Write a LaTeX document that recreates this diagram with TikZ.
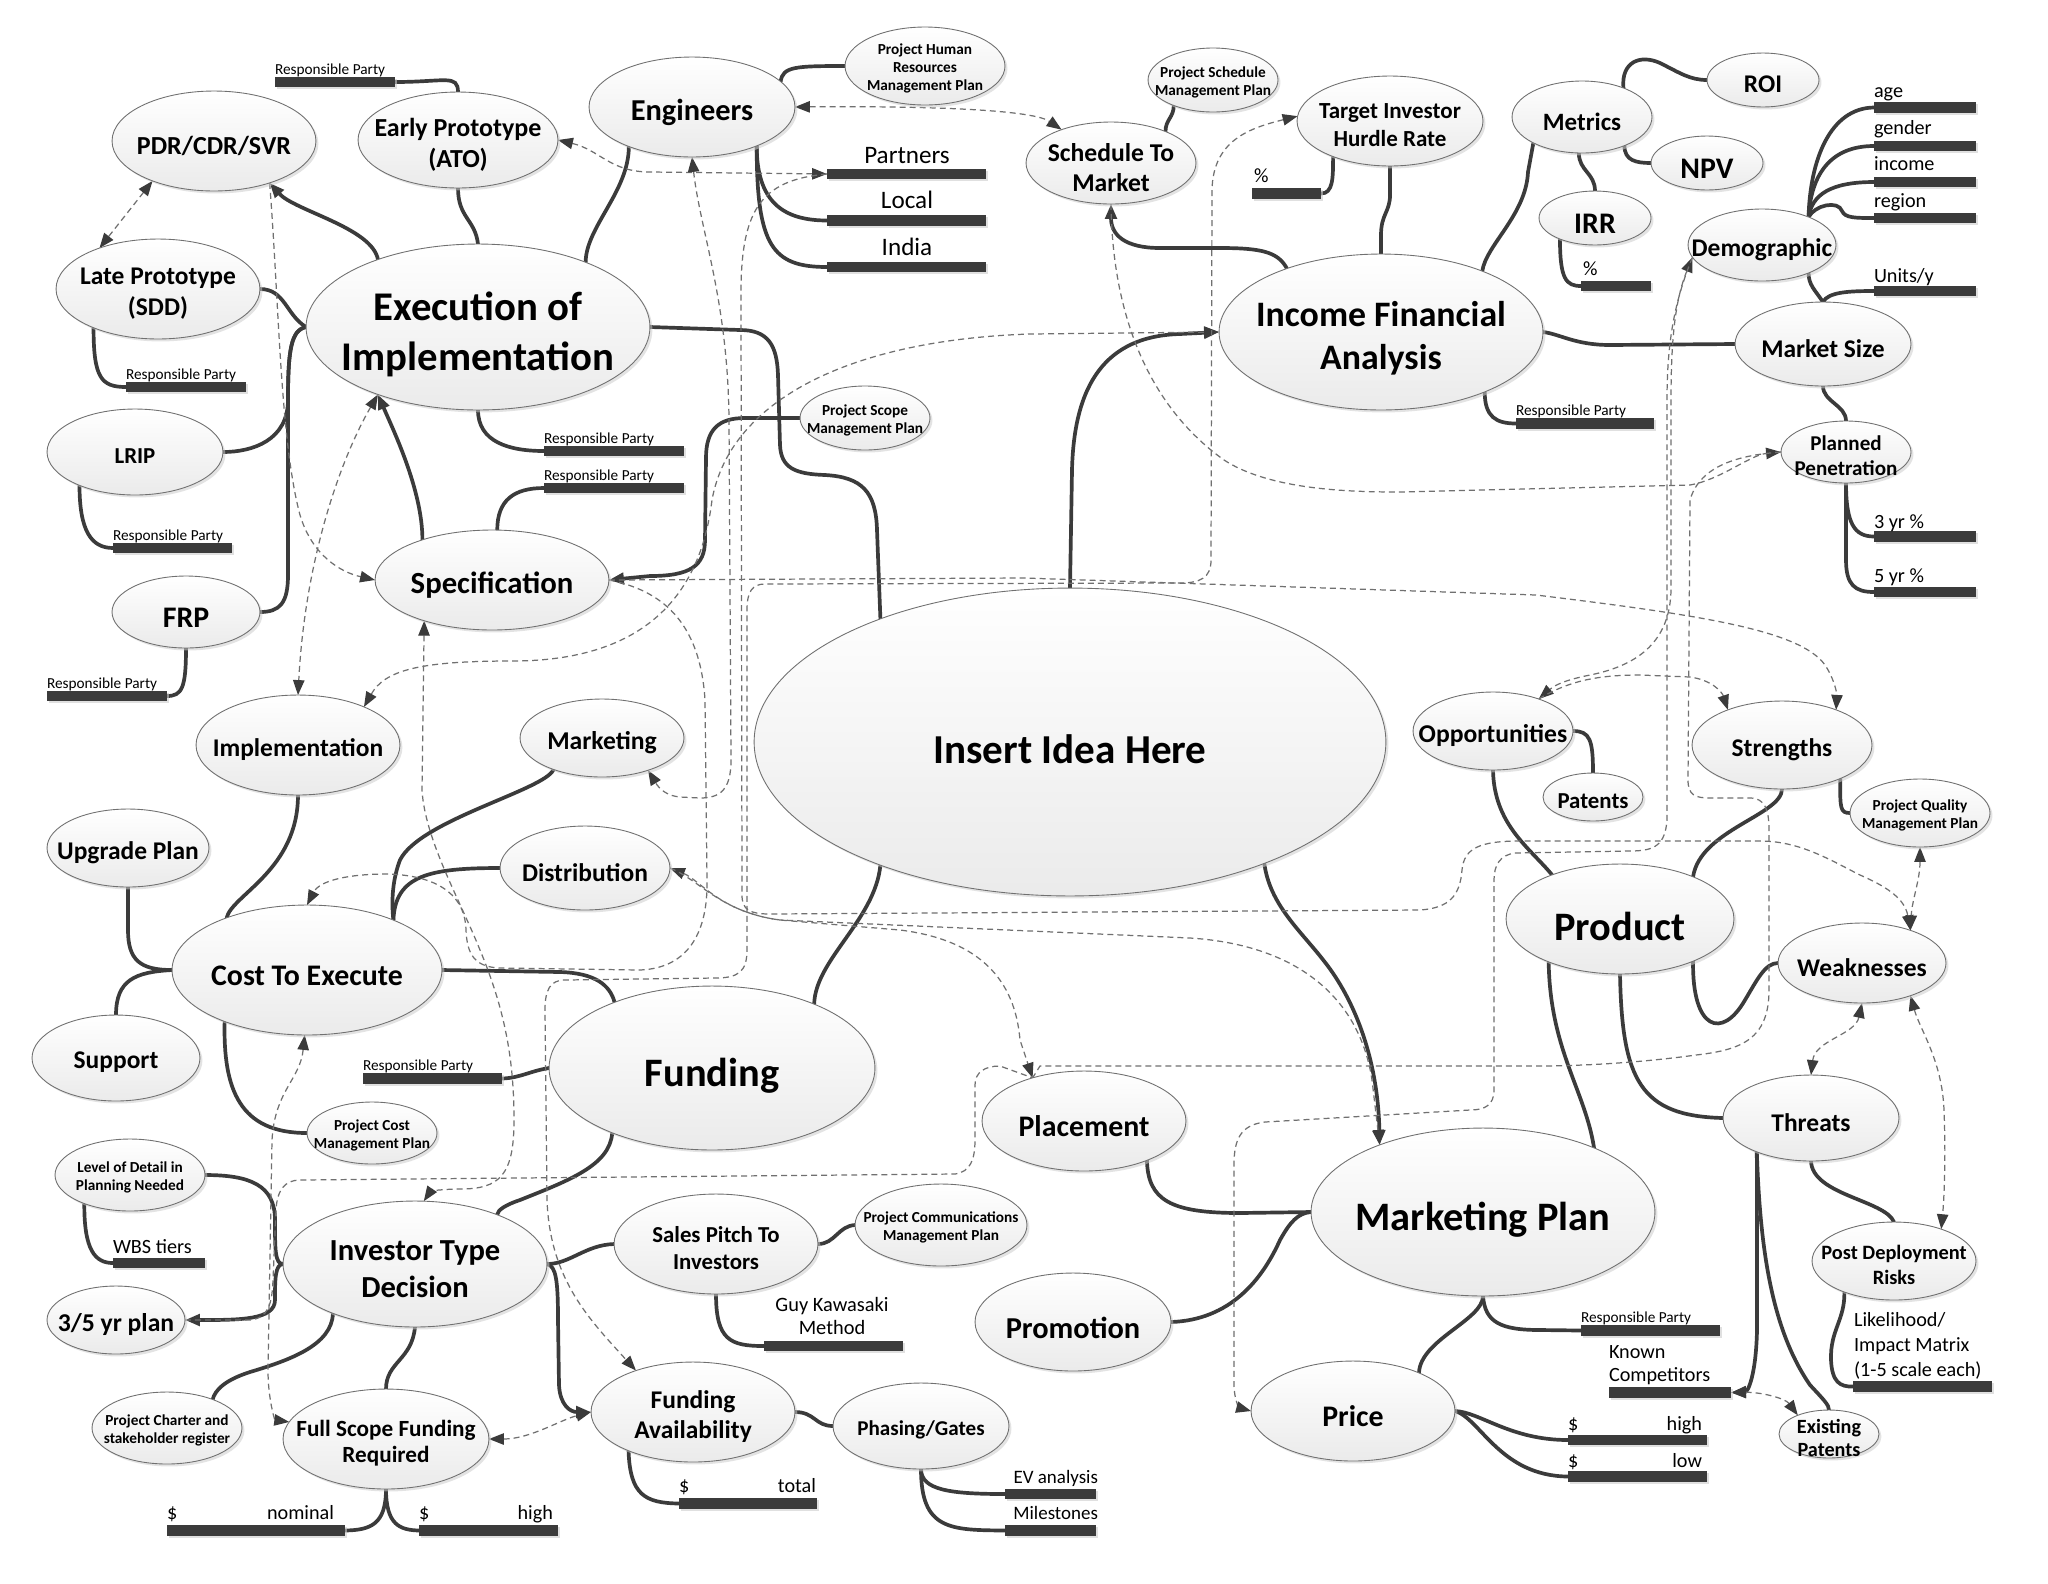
\documentclass[tikz,border=0pt]{standalone}
\usepackage{fontspec}
\setmainfont{Carlito}
\usetikzlibrary{shapes.geometric,arrows.meta,shadows,backgrounds}
\definecolor{linec}{HTML}{3B3B3B}
\definecolor{dashc}{HTML}{707070}
\definecolor{bord}{HTML}{707070}
\newcommand\myfs[2]{\fontsize{#1}{#2}\selectfont}
\tikzset{
  bub/.style={ellipse, draw=bord, line width=0.5pt, top color=white, bottom color=black!8,
    drop shadow={shadow xshift=1.4pt, shadow yshift=-1.4pt, fill=black!20, opacity=0.55},
    inner sep=0pt, outer sep=0pt},
  sz/.style 2 args={minimum width=#1*0.04cm, minimum height=#2*0.04cm},
  lab/.style={align=center, inner sep=0pt, text=black},
  bar/.style={rectangle, fill=linec, inner sep=0pt, outer sep=0pt, minimum height=10.5*0.02cm,
    drop shadow={shadow xshift=1pt, shadow yshift=-1pt, fill=black!20, opacity=0.6}},
  txt/.style={inner sep=0pt, outer sep=0pt, text=black},
  cn/.style={draw=linec, line width=2.1pt, line cap=round},
  dsh/.style={draw=dashc, line width=0.7pt, dash pattern=on 3.4pt off 2.3pt},
  >={Triangle[length=8.5pt,width=6.5pt,color=linec]}
}
\newcommand\mmbub[7]{\node[bub,sz={#4}{#5},label={[lab,yshift=-#6*0.18pt,font=\bfseries\myfs{#6}{#7}]center:#3}] (#1) at (#2) {};}
\newcommand\mmbar[3]{\node[bar,minimum width=#3*0.02cm] (#1) at (#2) {};}
\begin{document}
\begin{tikzpicture}[x=0.02cm,y=-0.02cm]
\useasboundingbox (0,0) rectangle (2048,1583);
% ---------- bubbles
\mmbub{pdr}{214,141}{PDR/CDR/SVR}{102}{50}{14.8}{17}
\mmbub{early}{458,140}{Early Prototype\\(ATO)}{100}{48}{14.8}{17.5}
\mmbub{eng}{692,107}{Engineers}{103}{50}{17.3}{20}
\mmbub{phr}{925,66}{Project Human\\Resources\\Management Plan}{80}{39}{8.7}{10.2}
\mmbub{stm}{1111,163}{Schedule To\\Market}{85}{41}{14.6}{17.6}
\mmbub{psch}{1213,80}{Project Schedule\\Management Plan}{65}{32}{8.7}{10.2}
\mmbub{tihr}{1390,121}{Target Investor\\Hurdle Rate}{93}{45}{13.1}{15.9}
\mmbub{metr}{1582,117}{Metrics}{70}{36}{14.2}{17}
\mmbub{roi}{1763,80}{ROI}{56}{27}{14.5}{17}
\mmbub{npv}{1707,163}{NPV}{56}{27}{17}{20}
\mmbub{irr}{1595,218}{IRR}{56}{27}{17}{20}
\mmbub{demo}{1762,245}{Demographic}{74}{36}{14.5}{17}
\mmbub{msize}{1823,344}{Market Size}{88}{42}{14.5}{17}
\mmbub{ppen}{1846,452}{Planned\\Penetration}{65}{31}{12}{14.4}
\mmbub{ifa}{1381,332}{Income Financial\\Analysis}{162}{78}{20.4}{24.5}
\mmbub{exec}{478,327}{Execution of\\Implementation}{172}{83}{23.2}{28.2}
\mmbub{late}{158,289}{Late Prototype\\(SDD)}{102}{50}{14.5}{17.5}
\mmbub{lrip}{135,452}{LRIP}{88}{43}{13}{15}
\mmbub{frp}{186,612}{FRP}{74}{36}{17}{20}
\mmbub{spec}{492,580}{Specification}{117}{50}{17.5}{20}
\mmbub{psmp}{865,418}{Project Scope\\Management Plan}{65}{32}{8.7}{10.2}
\mmbub{impl}{298,745}{Implementation}{102}{50}{14.5}{17}
\mmbub{upg}{128,848}{Upgrade Plan}{81}{39}{14.5}{17}
\mmbub{cte}{307,970}{Cost To Execute}{135}{65}{17}{20}
\mmbub{supp}{116,1058}{Support}{84}{43}{14.5}{17}
\mmbub{mkt}{602,738}{Marketing}{82}{39}{14.6}{17}
\mmbub{dist}{585,868}{Distribution}{85}{42}{14.5}{17}
\mmbub{idea}{1070,742}{Insert Idea Here}{316}{154}{23.4}{28}
\mmbub{fund}{712,1068}{Funding}{163}{82}{23}{27}
\mmbub{opp}{1493,731}{Opportunities}{80}{39}{14.6}{17}
\mmbub{pat}{1593,797}{Patents}{50}{24}{13}{15}
\mmbub{str}{1782,745}{Strengths}{90}{44}{14.5}{17}
\mmbub{pqmp}{1920,813}{Project Quality\\Management Plan}{70}{34}{8.7}{10.2}
\mmbub{prod}{1620,919}{Product}{114}{55}{23}{27}
\mmbub{weak}{1862,963}{Weaknesses}{84}{40}{14.5}{17}
\mmbub{thr}{1811,1118}{Threats}{88}{43}{14.5}{17}
\mmbub{pdrisk}{1894,1261}{Post Deployment\\Risks}{82}{39}{11.6}{14.2}
\mmbub{expat}{1829,1434}{Existing\\Patents}{50}{24}{11.5}{13}
\mmbub{mplan}{1483,1212}{Marketing Plan}{172}{84}{23}{27}
\mmbub{plac}{1084,1121}{Placement}{102}{50}{17}{20}
\mmbub{promo}{1073,1322}{Promotion}{98}{49}{17.3}{20}
\mmbub{price}{1353,1411}{Price}{102}{50}{17}{20}
\mmbub{inv}{415,1264}{Investor Type\\Decision}{132}{63}{17.4}{21}
\mmbub{lvl}{130,1175}{Level of Detail in\\Planning Needed}{75}{36}{8.7}{10.2}
\mmbub{tfp}{116,1320}{3/5 yr plan}{69}{34}{14.6}{17}
\mmbub{pchar}{167,1428}{Project Charter and\\stakeholder register}{75}{36}{8.7}{10.2}
\mmbub{fsf}{386,1439}{Full Scope Funding\\Required}{103}{50}{13.2}{15.2}
\mmbub{pcost}{372,1133}{Project Cost\\Management Plan}{65}{31}{8.7}{10.2}
\mmbub{sales}{716,1244}{Sales Pitch To\\Investors}{102}{50}{13}{15.2}
\mmbub{pcomm}{941,1225}{Project Communications\\Management Plan}{86}{41}{8.7}{10.2}
\mmbub{favail}{693,1412}{Funding\\Availability}{102}{50}{14.5}{17.2}
\mmbub{phase}{921,1426}{Phasing/Gates}{88}{43}{12}{14}
% ---------- bars
\mmbar{rp1}{335,82}{120}
\mmbar{rp2}{186,387}{120}
\mmbar{rp3}{172.5,548}{119}
\mmbar{rp4}{107,696}{120}
\mmbar{rp5}{614,451}{140}
\mmbar{rp6}{614,488}{140}
\mmbar{partners}{906.5,174}{159}
\mmbar{local}{906.5,220.5}{159}
\mmbar{india}{906.5,267}{159}
\mmbar{pct1}{1286.5,193.5}{69}
\mmbar{pct2}{1616,286}{70}
\mmbar{age}{1925,107.5}{102}
\mmbar{gender}{1925,146}{102}
\mmbar{income}{1925,182}{102}
\mmbar{region}{1925,218}{102}
\mmbar{units}{1925,291}{102}
\mmbar{rp7}{1585,423.5}{138}
\mmbar{yr3}{1925,536.5}{102}
\mmbar{yr5}{1925,592}{102}
\mmbar{wbs}{159,1263}{92}
\mmbar{nom}{256,1530.5}{178}
\mmbar{fhigh}{488.5,1530.5}{139}
\mmbar{guy}{833.5,1346}{139}
\mmbar{total}{748,1503.5}{138}
\mmbar{ev}{1050.5,1494}{91}
\mmbar{miles}{1050.5,1530.5}{91}
\mmbar{rp8}{1650.5,1330.5}{139}
\mmbar{known}{1670,1392.5}{122}
\mmbar{phigh}{1637.5,1440}{139}
\mmbar{plow}{1637.5,1476.5}{139}
\mmbar{lik}{1922.5,1386.5}{139}
\mmbar{rp9}{432.5,1078.5}{139}
% ---------- bar labels
\begin{scope}[every node/.style={txt,font=\myfs{8.7}{10},anchor=base west}]
\node (lrp1) at (275,74) {Responsible Party};
\node (lrp2) at (126,379) {Responsible Party};
\node (lrp3) at (113,540) {Responsible Party};
\node (lrp4) at (47,688) {Responsible Party};
\node (lrp5) at (544,443) {Responsible Party};
\node (lrp6) at (544,480) {Responsible Party};
\node (lrp7) at (1516,415) {Responsible Party};
\node (lrp8) at (1581,1322) {Responsible Party};
\node (lrp9) at (363,1070) {Responsible Party};
\end{scope}
\begin{scope}[every node/.style={txt,font=\myfs{14.3}{16},anchor=base}]
\node (lpart) at (907,163) {Partners};
\node (lloc) at (907,208) {Local};
\node (lind) at (907,255) {India};
\end{scope}
\begin{scope}[every node/.style={txt,font=\myfs{11.5}{13},anchor=base west}]
\node (lpcta) at (1254,182) {\%};
\node (lpctb) at (1583,275) {\%};
\node (lage) at (1874,97) {age};
\node (lgen) at (1874,134) {gender};
\node (linc) at (1874,170) {income};
\node (lreg) at (1874,207) {region};
\node (luni) at (1874,282) {Units/y};
\node (lyra) at (1874,528) {3 yr \%};
\node (lyrb) at (1874,582) {5 yr \%};
\node (lwbs) at (113,1253) {WBS tiers};
\node (ldola) at (167,1519) {\$};
\node (ldolb) at (419,1519) {\$};
\node (ldolc) at (679,1492) {\$};
\node (ldold) at (1568,1430) {\$};
\node (ldole) at (1568,1467) {\$};
\node (lkna) at (1609,1358) {Known};
\node (lknb) at (1609,1381) {Competitors};
\node (llia) at (1854,1326) {Likelihood/};
\node (llib) at (1854,1351) {Impact Matrix};
\node (llic) at (1854,1376) {(1-5 scale each)};
\end{scope}
\begin{scope}[every node/.style={txt,font=\myfs{11.5}{13},anchor=base east}]
\node (lnom) at (334,1519) {nominal};
\node (lhia) at (553,1519) {high};
\node (ltot) at (816,1492) {total};
\node (lhib) at (1702,1430) {high};
\node (llow) at (1702,1467) {low};
\end{scope}
\begin{scope}[every node/.style={txt,font=\myfs{10.8}{12},anchor=base east}]
\node (lev) at (1098,1483) {EV analysis};
\node (lmil) at (1098,1519) {Milestones};
\end{scope}
\begin{scope}[every node/.style={txt,font=\myfs{11.6}{13},anchor=base}]
\node (lguya) at (832,1311) {Guy Kawasaki};
\node (lguyb) at (832,1334) {Method};
\end{scope}
% ---------- connectors
\begin{scope}[on background layer]
\fill[white] (0,0) rectangle (2048,1583);
% solid
\draw[cn] (rp1.east) .. controls +(50,0) and +(0,-18) .. (early.north);
\draw[cn] (early.south) .. controls +(0,30) and +(-3,-25) .. (exec.north);
\draw[cn,->] (exec.146) .. controls +(-6,-32) and +(25,28) .. (pdr.-37);
\draw[cn] (late.east) .. controls +(25,0) and +(-20,-12) .. (exec.west);
\draw[cn] (late.-149) .. controls +(0,50) and +(-25,0) .. (rp2.west);
\draw[cn] (exec.west) .. controls +(-15,3) and +(0,-50) .. (288,400) .. controls +(0,40) and +(30,0) .. (lrip.east);
\draw[cn] (exec.west) .. controls +(-15,3) and +(0,-50) .. (288,400) -- (288,575) .. controls +(0,28) and +(20,0) .. (frp.east);
\draw[cn] (lrip.-149) .. controls +(0,45) and +(-22,0) .. (rp3.west);
\draw[cn] (frp.south) .. controls +(0,40) and +(15,0) .. (rp4.east);
\draw[cn] (eng.-148.5) .. controls +(0,45) and +(0,-35) .. (exec.31);
\draw[cn] (eng.16) .. controls +(2,-15) and +(-50,0) .. (phr.west);
\draw[cn] (eng.-31) .. controls +(0,55) and +(-45,0) .. (local.west);
\draw[cn] (eng.-31) .. controls +(0,100) and +(-55,0) .. (india.west);
\draw[cn] (exec.south) .. controls +(0,32) and +(-35,0) .. (rp5.west);
\draw[cn] (spec.84) .. controls +(0,-30) and +(-30,0) .. (rp6.west);
\draw[cn,->] (spec.150) .. controls +(0,-50) and +(15,35) .. (exec.-146);
\draw[cn] (exec.east) -- (740,330) .. controls (768,330) and (777,345) .. (778,375) -- (780,445) .. controls (781,468) and (795,474) .. (825,475) .. controls (862,477) and (876,492) .. (877,530) -- (idea.147.6);
\draw[cn,->] (psmp.west) -- (745,418) .. controls (718,418) and (706,430) .. (706,458) -- (705,540) .. controls (705,566) and (690,576) .. (650,576) -- (spec.east);
\draw[cn,->] (idea.north) -- (1072,470) .. controls (1074,385) and (1105,336) .. (1180,334) -- (ifa.west);
\draw[cn,->] (ifa.146.6) .. controls (1278,252) and (1262,248) .. (1220,248) -- (1160,248) .. controls (1125,248) and (1111,235) .. (stm.south);
\draw[cn] (stm.30) .. controls +(0,-12) and +(0,12) .. (psch.-147);
\draw[cn] (pct1.east) .. controls +(12,0) and +(0,22) .. (tihr.-148);
\draw[cn] (tihr.south) -- (1390,195) .. controls (1390,212) and (1381,214) .. (1381,235) -- (ifa.north);
\draw[cn] (ifa.31.5) .. controls (1486,245) and (1526,215) .. (1528,172) -- (metr.-152);
\draw[cn] (metr.35) .. controls (1621,62) and (1640,54) .. (1660,63) .. controls (1680,73) and (1690,80) .. (roi.west);
\draw[cn] (metr.-34) .. controls +(0,15) and +(-15,0) .. (npv.west);
\draw[cn] (metr.-95) .. controls +(0,18) and +(0,-18) .. (irr.north);
\draw[cn] (irr.-149.5) .. controls +(0,40) and +(-15,0) .. (pct2.west);
\draw[cn] (ifa.east) .. controls (1560,334) and (1575,345) .. (1610,345) -- (msize.west);
\draw[cn] (demo.31) .. controls (1810,160) and (1830,108) .. (age.west);
\draw[cn] (demo.31) .. controls (1811,175) and (1830,146) .. (gender.west);
\draw[cn] (demo.31) .. controls (1812,195) and (1830,182) .. (income.west);
\draw[cn] (demo.31) .. controls (1815,205) and (1838,200) .. (1842,211) .. controls (1845,218) and (1855,218) .. (region.west);
\draw[cn] (demo.-31) .. controls +(0,12) and +(-8,-12) .. (msize.north);
\draw[cn] (msize.north) .. controls +(5,-10) and +(-25,0) .. (units.west);
\draw[cn] (msize.south) .. controls +(0,16) and +(0,-16) .. (ppen.north);
\draw[cn] (ppen.south) .. controls +(0,40) and +(-20,0) .. (yr3.west);
\draw[cn] (ppen.south) -- (1846,560) .. controls (1846,585) and (1855,592) .. (yr5.west);
\draw[cn] (ifa.-30.6) .. controls +(0,25) and +(-20,0) .. (rp7.west);
\draw[cn] (opp.east) .. controls (1590,731) and (1593,740) .. (pat.north);
\draw[cn] (opp.south) .. controls (1494,825) and (1530,848) .. (prod.147.5);
\draw[cn] (str.south) .. controls (1782,815) and (1700,830) .. (prod.30.8);
\draw[cn] (str.-30.5) .. controls +(0,30) and +(-10,0) .. (pqmp.west);
\draw[cn] (prod.-30.6) .. controls (1692,1030) and (1722,1040) .. (1745,1000) .. controls (1757,980) and (1765,963) .. (weak.west);
\draw[cn] (prod.south) .. controls (1622,1080) and (1640,1116) .. (thr.west);
\draw[cn] (prod.-149.4) .. controls (1550,1050) and (1585,1090) .. (mplan.30.65);
\draw[cn,->] (idea.-32) .. controls (1270,905) and (1300,930) .. (1324,961) .. controls (1355,1000) and (1378,1060) .. (mplan.147);
\draw[cn] (idea.-147.8) .. controls (875,920) and (815,960) .. (fund.32.5);
\draw[cn] (plac.-32.4) .. controls (1148,1200) and (1170,1213) .. (1240,1213) -- (mplan.west);
\draw[cn] (promo.east) .. controls (1230,1320) and (1262,1280) .. (1280,1240) .. controls (1290,1222) and (1298,1213) .. (mplan.west);
\draw[cn] (mplan.south) .. controls (1483,1320) and (1420,1340) .. (price.30.7);
\draw[cn] (mplan.south) .. controls (1485,1322) and (1500,1330) .. (1540,1330) -- (rp8.west);
\draw[cn] (price.east) .. controls (1480,1412) and (1510,1440) .. (phigh.west);
\draw[cn] (price.east) .. controls (1480,1418) and (1500,1476) .. (plow.west);
\draw[cn,->] (thr.-148.6) -- (1757,1330) .. controls (1756,1375) and (1748,1392) .. (known.east);
\draw[cn] (thr.-148.6) .. controls (1760,1250) and (1772,1330) .. (1810,1385) .. controls (1824,1400) and (1829,1405) .. (expat.north);
\draw[cn] (thr.south) .. controls (1812,1195) and (1885,1200) .. (pdrisk.north);
\draw[cn] (pdrisk.-148.5) .. controls (1845,1320) and (1830,1330) .. (1831,1360) .. controls (1832,1382) and (1840,1387) .. (lik.west);
\draw[cn] (mkt.-147.4) .. controls (545,790) and (420,820) .. (400,860) .. controls (393,878) and (391,900) .. (cte.30.8);
\draw[cn] (dist.west) .. controls (430,868) and (395,875) .. (cte.30.8);
\draw[cn] (cte.147.3) .. controls (232,895) and (298,870) .. (impl.south);
\draw[cn] (cte.west) .. controls (140,970) and (128,960) .. (128,930) -- (upg.south);
\draw[cn] (cte.west) .. controls (135,972) and (116,980) .. (supp.north);
\draw[cn] (cte.east) -- (560,972) .. controls (595,973) and (610,985) .. (fund.146.2);
\draw[cn] (cte.-148.7) .. controls (223,1090) and (240,1133) .. (pcost.west);
\draw[cn] (rp9.east) .. controls (520,1078) and (530,1071) .. (fund.west);
\draw[cn] (fund.-147) .. controls (610,1165) and (570,1180) .. (520,1200) .. controls (505,1205) and (498,1210) .. (inv.31.9);
\draw[cn] (inv.east) .. controls (570,1264) and (585,1245) .. (sales.west);
\draw[cn,->] (inv.east) .. controls (556,1266) and (558,1280) .. (558,1320) -- (559,1385) .. controls (560,1405) and (570,1412) .. (favail.west);
\draw[cn] (sales.east) .. controls (835,1244) and (838,1226) .. (pcomm.west);
\draw[cn] (sales.south) .. controls (716,1340) and (730,1346) .. (guy.west);
\draw[cn] (favail.east) .. controls (815,1412) and (815,1426) .. (phase.west);
\draw[cn] (favail.-149.6) .. controls (630,1495) and (645,1503) .. (total.west);
\draw[cn] (phase.south) .. controls (921,1490) and (950,1494) .. (ev.west);
\draw[cn] (phase.south) .. controls (921,1530) and (950,1530) .. (miles.west);
\draw[cn] (inv.west) .. controls (275,1264) and (275,1250) .. (275,1220) .. controls (275,1185) and (250,1175) .. (lvl.east);
\draw[cn,->] (inv.west) .. controls (275,1264) and (275,1280) .. (275,1300) .. controls (275,1320) and (240,1320) .. (tfp.east);
\draw[cn] (inv.-149) .. controls (332,1345) and (290,1360) .. (250,1372) .. controls (225,1380) and (215,1390) .. (pchar.32.2);
\draw[cn] (inv.south) .. controls (412,1360) and (386,1362) .. (fsf.north);
\draw[cn] (lvl.-148.7) .. controls (84,1250) and (95,1263) .. (wbs.west);
\draw[cn] (fsf.south) .. controls (386,1525) and (370,1530) .. (nom.east);
\draw[cn] (fsf.south) .. controls (386,1525) and (400,1530) .. (fhigh.west);
% dashed
\draw[dsh,<->] (early.east) .. controls (600,150) and (610,172) .. (650,172) -- (partners.west);
\draw[dsh,<->] (eng.east) .. controls (900,106) and (1030,108) .. (stm.146);
\draw[dsh,<->] (pdr.-147.4) -- (late.145.5);
\draw[dsh,->] (pdr.-37) .. controls (279,300) and (280,440) .. (300,515) .. controls (312,555) and (340,572) .. (spec.west);
\draw[dsh,<->] (exec.-146) .. controls (340,460) and (305,560) .. (impl.north);
\draw[dsh,<->] (impl.30) .. controls (385,670) and (420,661) .. (512,661) .. controls (640,661) and (700,600) .. (712,500) .. controls (730,400) and (850,340) .. (1030,334) -- (ifa.west);
\draw[dsh,<->] (eng.south) .. controls (700,230) and (728,300) .. (729,420) -- (731,760) .. controls (731,790) and (720,798) .. (700,798) -- (680,797) .. controls (668,796) and (660,790) .. (mkt.-35);
\draw[dsh,->] (partners.west) .. controls (760,180) and (740,210) .. (741,300) -- (742,895) .. controls (742,910) and (750,914) .. (770,914) -- (1420,910) .. controls (1450,908) and (1460,895) .. (1462,870) .. controls (1464,848) and (1480,841) .. (1520,841) -- (1760,841) .. controls (1800,841) and (1830,860) .. (1860,875) .. controls (1890,888) and (1905,900) .. (weak.34);
\draw[dsh,->] (spec.east) .. controls (660,590) and (700,620) .. (705,700) -- (707,880) .. controls (708,930) and (690,968) .. (640,970) -- (500,968) .. controls (475,967) and (467,955) .. (466,930) .. controls (465,890) and (430,875) .. (387,874) .. controls (350,874) and (320,880) .. (cte.north);
\draw[dsh,<->] (dist.east) .. controls (700,880) and (720,912) .. (780,920) -- (900,930) .. controls (980,940) and (1015,980) .. (1020,1040) -- (plac.140);
\draw[dsh,->] (dist.east) .. controls (700,880) and (720,912) .. (780,920) -- (1190,938) .. controls (1300,945) and (1360,1000) .. (1372,1080) -- (mplan.147);
\draw[dsh,<->] (spec.-149.6) -- (422,790) .. controls (425,840) and (460,900) .. (480,950) .. controls (505,1010) and (514,1060) .. (514,1120) .. controls (514,1175) and (500,1189) .. (460,1189) .. controls (440,1189) and (430,1192) .. (inv.82);
\draw[dsh] (tfp.east) -- (250,1320) .. controls (268,1318) and (272,1305) .. (273,1280) -- (276,1210) .. controls (277,1190) and (285,1180) .. (300,1180) -- (955,1174) .. controls (970,1172) and (975,1160) .. (975,1140) -- (975,1085) .. controls (975,1072) and (985,1066) .. (1000,1066) -- (plac.140);
\draw[dsh,<->] (cte.-92) .. controls (300,1080) and (275,1090) .. (272,1140) -- (268,1370) .. controls (268,1400) and (275,1420) .. (fsf.170);
\draw[dsh,<->] (tihr.177) .. controls (1250,128) and (1213,140) .. (1212,190) -- (1211,560) .. controls (1211,578) and (1200,583) .. (1180,583) -- (765,584) .. controls (752,584) and (747,592) .. (747,610) -- (747,950) .. controls (747,972) and (738,978) .. (715,978) -- (565,980) .. controls (550,980) and (545,990) .. (545,1010) -- (547,1200) .. controls (550,1280) and (590,1320) .. (favail.144);
\draw[dsh,->] (stm.south) .. controls (1112,300) and (1140,400) .. (1224,460) .. controls (1270,490) and (1350,492) .. (1400,492) -- (1690,485) .. controls (1720,480) and (1750,455) .. (ppen.west);
\draw[dsh] (ppen.west) .. controls (1740,455) and (1700,465) .. (1690,500) -- (1688,780) .. controls (1688,795) and (1695,798) .. (1710,798) -- (1750,798) .. controls (1765,798) and (1769,810) .. (1769,830) -- (1769,990) .. controls (1769,1040) and (1740,1050) .. (1696,1055) .. controls (1660,1060) and (1600,1066) .. (1536,1066) -- (1040,1066) -- (plac.140);
\draw[dsh,<->] (demo.190) .. controls (1675,300) and (1671,340) .. (1671,400) -- (1671,590) .. controls (1670,640) and (1640,665) .. (1590,675) .. controls (1565,680) and (1555,685) .. (opp.35);
\draw[dsh,->] (demo.190) .. controls (1675,300) and (1667,340) .. (1667,400) -- (1667,820) .. controls (1665,845) and (1655,851) .. (1630,851) -- (1515,853) .. controls (1500,855) and (1494,865) .. (1494,880) -- (1494,1090) .. controls (1494,1105) and (1485,1110) .. (1470,1110) -- (1265,1122) .. controls (1240,1125) and (1234,1140) .. (1234,1165) -- (1234,1385) .. controls (1234,1400) and (1240,1408) .. (price.west);
\draw[dsh,->] (opp.35) .. controls (1570,680) and (1600,675) .. (1640,675) -- (1690,677) .. controls (1712,680) and (1722,692) .. (str.147);
\draw[dsh,->] (spec.east) -- (1024,578) -- (1536,595) .. controls (1700,615) and (1800,630) .. (1825,665) .. controls (1835,680) and (1837,695) .. (str.33.5);
\draw[dsh,<->] (pqmp.south) .. controls (1920,880) and (1912,900) .. (weak.34);
\draw[dsh,<->] (weak.south) .. controls (1855,1035) and (1815,1040) .. (thr.north);
\draw[dsh,<->] (weak.-34) .. controls (1920,1030) and (1942,1060) .. (1944,1110) .. controls (1946,1160) and (1944,1200) .. (pdrisk.34);
\draw[dsh,<->] (known.east) .. controls (1760,1392) and (1785,1398) .. (expat.149.5);
\draw[dsh,<->] (fsf.east) .. controls (530,1439) and (560,1420) .. (favail.west);
\end{scope}
\end{tikzpicture}
\end{document}
